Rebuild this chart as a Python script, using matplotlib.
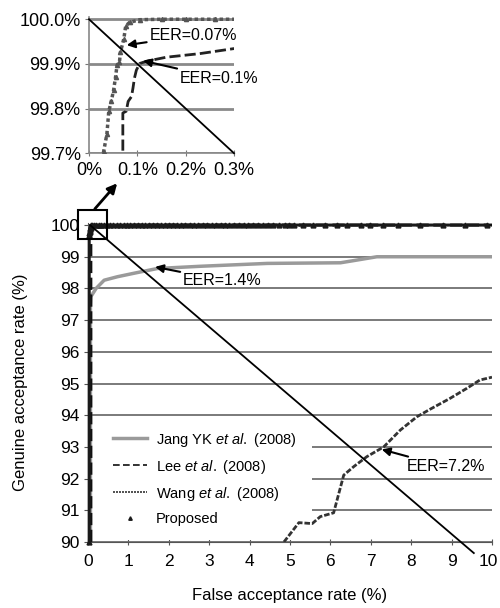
import matplotlib
matplotlib.use("Agg")
import matplotlib.pyplot as plt
import matplotlib.transforms as mtransforms
from matplotlib.lines import Line2D
from matplotlib.patches import Rectangle, FancyArrowPatch

plt.rcParams["font.family"] = ["Liberation Sans", "DejaVu Sans"]
plt.rcParams["mathtext.fontset"] = "custom"
plt.rcParams["mathtext.rm"] = "Liberation Sans"
plt.rcParams["mathtext.it"] = "Liberation Sans:italic"

# ---- data (FAR %, GAR %) ----
jang_far = [0.06, 0.06, 0.07, 0.2, 0.4, 0.73, 1.14, 1.72, 2.79, 4.44, 6.25, 6.49, 7.15, 10.0]
jang_gar = [90.0, 97.5, 97.74, 98.0, 98.26, 98.37, 98.48, 98.63, 98.7, 98.79, 98.81, 98.86, 99.0, 99.0]

lee_far = [0.07, 0.07, 0.077, 0.081, 0.088, 0.091, 0.094, 0.098, 0.105, 0.119, 0.16, 0.229, 0.298,
           0.6, 1.2, 10.0]
lee_gar = [90.0, 99.79, 99.794, 99.816, 99.827, 99.846, 99.868, 99.886, 99.901, 99.906, 99.915,
           99.923, 99.934, 99.97, 100.0, 100.0]

wang_far = [4.85, 5.22, 5.55, 5.75, 6.08, 6.33, 6.58, 6.9, 7.32, 7.73, 8.14, 8.47, 8.96, 9.38, 9.7, 10.0]
wang_gar = [90.0, 90.61, 90.58, 90.8, 90.92, 92.11, 92.38, 92.69, 93.0, 93.53, 93.95, 94.19, 94.53,
            94.85, 95.11, 95.2]

prop_far = [0.03, 0.03, 0.037, 0.041, 0.046, 0.051, 0.055, 0.058, 0.063, 0.065, 0.072, 0.076, 0.084,
            0.105, 0.15, 0.2, 0.26, 0.33, 0.4, 0.48, 0.55, 0.63, 0.71, 0.8, 0.88, 0.97, 1.05, 1.15,
            1.24, 1.33, 1.42, 1.52, 1.62, 1.71, 1.8, 1.9, 2.0, 2.1, 2.2, 2.3, 2.41, 2.52, 2.62, 2.73,
            2.84, 2.95, 3.06, 3.17, 3.28, 3.39, 3.5, 3.62, 3.74, 3.86, 3.97, 4.09, 4.22, 4.34, 4.46,
            4.59, 4.74, 4.88, 4.98, 5.11, 5.33, 5.58, 5.87, 6.17, 6.4, 6.75, 6.98, 7.31, 7.68, 8.23,
            8.78, 9.33, 9.87]
prop_gar = [90.0, 99.702, 99.743, 99.794, 99.816, 99.842, 99.871, 99.897, 99.904, 99.926, 99.956,
            99.985, 99.993, 99.999] + [100.0] * 63

labels = ["Jang YK $\\it{et\\ al.}$ (2008)", "Lee $\\it{et\\ al.}$ (2008)",
          "Wang $\\it{et\\ al.}$ (2008)", "Proposed"]
main_yticks = [90, 91, 92, 93, 94, 95, 96, 97, 98, 99, 100]
main_xticks = [0, 1, 2, 3, 4, 5, 6, 7, 8, 9, 10]
inset_xticks = [0.0, 0.1, 0.2, 0.3]
inset_xlabels = ["0%", "0.1%", "0.2%", "0.3%"]
inset_yticks = [99.7, 99.8, 99.9, 100.0]
inset_ylabels = ["99.7%", "99.8%", "99.9%", "100.0%"]

GRID = "#707070"
JANG_C = "#9a9a9a"

fig = plt.figure(figsize=(5, 6.08), dpi=100)

# ---- main axes ----
ax = fig.add_axes([0.176, 0.1086, 0.808, 0.5254])
ax.set_xlim(0, 10)
ax.set_ylim(90, 100.08)
ax.set_yticks(main_yticks)
ax.set_xticks(main_xticks)
ax.tick_params(axis="both", labelsize=12.5, colors="#555555", labelcolor="black")
ax.tick_params(axis="x", direction="inout", length=5, pad=6)
ax.tick_params(axis="y", direction="out", length=3, pad=3)
ax.grid(axis="y", color=GRID, lw=1.3, zorder=0)
ax.set_axisbelow(True)
for s in ["top", "right"]:
    ax.spines[s].set_visible(False)
for s in ["left", "bottom"]:
    ax.spines[s].set_color("#555555")

# last x label sits a little left of its tick, so it stays inside the picture
last = ax.get_xticklabels()[-1]
last.set_transform(last.get_transform() +
                   mtransforms.ScaledTranslation(-4 / 100, 0, fig.dpi_scale_trans))

# white legend background covering the gridlines
ax.add_patch(Rectangle((0.05, 90.05), 5.5, 3.65, facecolor="white", edgecolor="none", zorder=1.5))

ax.plot(jang_far, jang_gar, color=JANG_C, lw=2.5, zorder=3)
ax.plot(wang_far, wang_gar, color="#333333", lw=2, ls=(0, (2, 0.7)), zorder=3)
ax.plot(lee_far, lee_gar, color="#111111", lw=2.2, ls=(0, (4, 1.5)), zorder=3)
ax.plot(prop_far, prop_gar, color="#1a1a1a", lw=2.2, marker="^", ms=3.5, zorder=4, clip_on=False)

# EER diagonal
ax.plot([0.05, 9.55], [100.0, 89.65], color="black", lw=1.3, clip_on=False, zorder=5)

arrow = dict(arrowstyle="-|>", color="black", lw=1.5, mutation_scale=12, shrinkA=0, shrinkB=0)
ax.annotate("EER=1.4%", xy=(1.66, 98.68), xytext=(2.35, 98.26), fontsize=11.5,
            va="center", ha="left", arrowprops=arrow, zorder=6)
ax.annotate("EER=7.2%", xy=(7.27, 92.92), xytext=(7.89, 92.37), fontsize=11.5,
            va="center", ha="left", arrowprops=arrow, zorder=6)

# zoom box and pointer to the inset
ax.add_patch(Rectangle((-0.24, 99.55), 0.7, 0.92, fill=False, edgecolor="black", lw=1.5,
                       clip_on=False, zorder=6))
fig.add_artist(FancyArrowPatch((0.186, 0.653), (0.238, 0.702), transform=fig.transFigure,
                               arrowstyle="-|>", mutation_scale=14, color="black", lw=2))

ax.set_xlabel("False acceptance rate (%)", fontsize=12, labelpad=14)
ax.set_ylabel("Genuine acceptance rate (%)", fontsize=12, labelpad=16)

handles = [Line2D([], [], color=JANG_C, lw=2.5),
           Line2D([], [], color="#111111", lw=1.2, ls=(0, (4, 2))),
           Line2D([], [], color="#333333", lw=1.2, ls=(0, (1.2, 0.6))),
           Line2D([], [], color="#1a1a1a", lw=0, marker="^", ms=2.5)]
ax.legend(handles, labels, loc="upper left", bbox_to_anchor=(0.03, 0.39), frameon=False,
          fontsize=10.5, handlelength=2.3, handletextpad=0.6, labelspacing=0.62)

# ---- inset ----
ins = fig.add_axes([0.178, 0.748, 0.29, 0.224])
ins.set_xlim(0, 0.3)
ins.set_ylim(99.7, 100.005)
ins.set_xticks(inset_xticks)
ins.set_xticklabels(inset_xlabels)
ins.set_yticks(inset_yticks)
ins.set_yticklabels(inset_ylabels)
ins.tick_params(axis="both", labelsize=13, colors="#777777", labelcolor="black")
ins.tick_params(axis="x", direction="inout", length=5, pad=4)
ins.tick_params(axis="y", direction="out", length=3, pad=3)
ins.grid(axis="y", color="#8a8a8a", lw=2, zorder=0)
ins.set_axisbelow(True)
for s in ["top", "right"]:
    ins.spines[s].set_visible(False)
for s in ["left", "bottom"]:
    ins.spines[s].set_color("#888888")
    ins.spines[s].set_linewidth(1.2)

ins.plot(lee_far, lee_gar, color="#222222", lw=2, ls=(0, (4, 1.5)), zorder=3)
ins.plot(prop_far, prop_gar, color="#555555", lw=2.5, ls=(0, (1, 0.8)), marker="^", ms=3,
         zorder=4)
ins.plot([0.0, 0.3], [100.0, 99.7], color="black", lw=1.3, zorder=5, clip_on=False)

ins.annotate("EER=0.07%", xy=(0.078, 99.942), xytext=(0.125, 99.964), fontsize=11.5,
             va="center", ha="left", arrowprops=arrow, zorder=6)
ins.annotate("EER=0.1%", xy=(0.112, 99.907), xytext=(0.188, 99.868), fontsize=11.5,
             va="center", ha="left", arrowprops=arrow, zorder=6)

fig.savefig("out.png", dpi=100)
